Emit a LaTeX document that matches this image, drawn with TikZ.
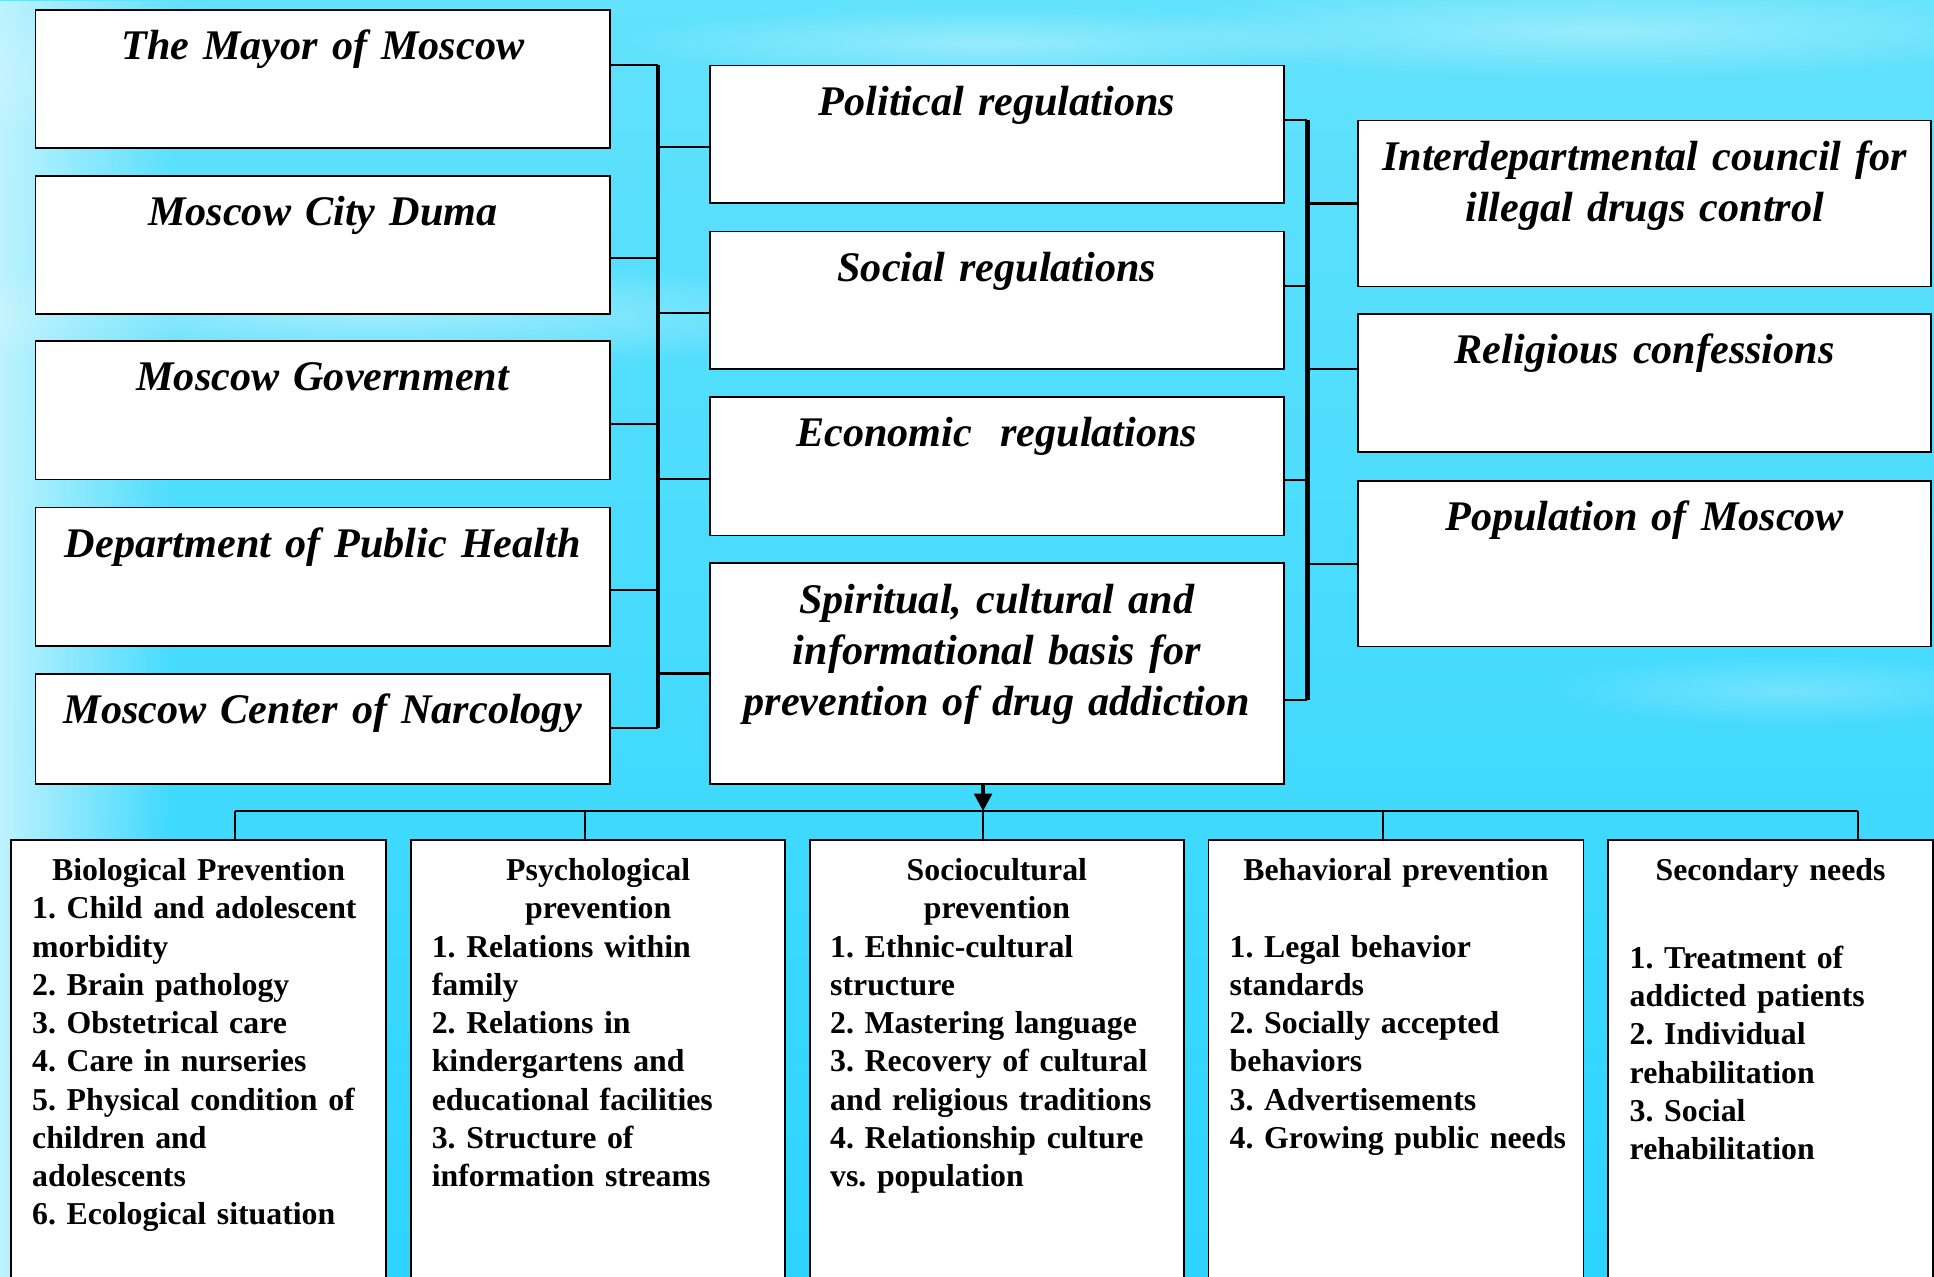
\documentclass[tikz,border=0pt]{standalone}
\usepackage{fontspec}
\setmainfont{Liberation Serif}
\usetikzlibrary{calc,arrows.meta,fadings}
\definecolor{skytop}{RGB}{98,226,252}
\definecolor{skybot}{RGB}{44,212,255}
\definecolor{skylight}{RGB}{190,243,255}
\newcommand\pxu{0.012334cm}
\protected\def\tightsp{\spaceskip=0.2em\relax}
\protected\def\tightspb{\spaceskip=0.21em\relax}
\tikzfading[name=softblob,inner color=transparent!0,outer color=transparent!100]
\frenchspacing
\begin{document}
\begin{tikzpicture}[x=0.012334cm,y=-0.012334cm,
  box/.style n args={2}{draw=black,line width=0.5pt,fill=white,rectangle,inner sep=0pt,anchor=north west,
     minimum width=#1*\pxu,minimum height=#2*\pxu},
  toptext/.style={font=\fontsize{12pt}{14.56pt}\selectfont\bfseries\itshape\frenchspacing\tightspb,align=center,text width=158pt,inner sep=0pt,anchor=base},
  btitle/.style={font=\fontsize{9.05pt}{10.88pt}\selectfont\bfseries\frenchspacing\tightsp,align=center,text width=100pt,inner sep=0pt,anchor=base},
  bbody/.style={font=\fontsize{9.05pt}{10.88pt}\selectfont\bfseries\frenchspacing\tightsp,align=left,text width=100pt,inner sep=0pt,anchor=base west},
  stub/.style={draw=black,line width=0.6pt},
  bus/.style={draw=black,line width=1.3pt},
  feed/.style={draw=black,line width=1.1pt,-{Triangle[length=5pt,width=5pt]}}
]
\useasboundingbox (0,0) rectangle (1568,1035);
\clip (0,0) rectangle (1568,1035);
% background sky
\shade[top color=skytop,bottom color=skybot] (0,0) rectangle (1568,1035);
\fill[skylight,path fading=east] (0,0) rectangle (140,1035);
\fill[white,opacity=0.45,path fading=softblob] (300,255) ellipse [x radius=420,y radius=45];
\fill[white,opacity=0.35,path fading=softblob] (1300,25) ellipse [x radius=380,y radius=40];
\fill[white,opacity=0.35,path fading=softblob] (800,35) ellipse [x radius=300,y radius=30];
\fill[white,opacity=0.3,path fading=softblob] (120,60) ellipse [x radius=200,y radius=60];
\fill[white,opacity=0.25,path fading=softblob] (1450,560) ellipse [x radius=200,y radius=30];

% left column
\node[box={466}{112}]   (L1) at (28,7.3) {};
\node[box={466}{112.3}] (L2) at (28,141.7) {};
\node[box={466}{112.3}] (L3) at (28,275.7) {};
\node[box={466}{112.3}] (L4) at (28,410.7) {};
\node[box={466}{89.4}]  (L5) at (28,545.6) {};
% middle column
\node[box={465}{111.7}] (M1) at (575,52.3) {};
\node[box={465}{111.5}] (M2) at (575,187) {};
\node[box={465}{112.5}] (M3) at (575,321) {};
\node[box={465}{179}]   (M4) at (575,456) {};
% right column
\node[box={464.5}{134.5}] (R1) at (1100.5,97) {};
\node[box={464.5}{112}]   (R2) at (1100.5,254) {};
\node[box={464.5}{134.5}] (R3) at (1100.5,389) {};
% bottom boxes
\node[box={303.5}{420}] (B1) at (8.5,680) {};
\node[box={303.5}{420}] (B2) at (332.5,680) {};
\node[box={303}{420}]   (B3) at (656,680) {};
\node[box={304}{420}]   (B4) at (979,680) {};
\node[box={263.5}{420}] (B5) at (1303,680) {};

% top texts
\node[toptext] (tL1) at ($(L1.north)+(0,41)$) {The Mayor of Moscow};
\node[toptext] (tL2) at ($(L2.north)+(0,41)$) {Moscow City Duma};
\node[toptext] (tL3) at ($(L3.north)+(0,41)$) {Moscow Government};
\node[toptext] (tL4) at ($(L4.north)+(0,41)$) {Department of Public Health};
\node[toptext] (tL5) at ($(L5.north)+(0,41)$) {Moscow Center of Narcology};
\node[toptext] (tM1) at ($(M1.north)+(0,41)$) {Political regulations};
\node[toptext] (tM2) at ($(M2.north)+(0,41)$) {Social regulations};
\node[toptext] (tM3) at ($(M3.north)+(0,41)$) {Economic\ \ regulations};
\node[toptext] (tM4) at ($(M4.north)+(0,41)$) {Spiritual, cultural and\\informational basis for\\prevention of drug addiction};
\node[toptext] (tR1) at ($(R1.north)+(0,41)$) {Interdepartmental council for\\illegal drugs control};
\node[toptext] (tR2) at ($(R2.north)+(0,41)$) {Religious confessions};
\node[toptext] (tR3) at ($(R3.north)+(0,41)$) {Population of Moscow};

% bottom texts
\node[btitle] (hB1) at ($(B1.north)+(0,34)$) {Biological Prevention};
\node[bbody]  (bB1) at ($(B1.north west)+(17,65)$) {1. Child and adolescent\\morbidity\\2. Brain pathology\\3. Obstetrical care\\4. Care in nurseries\\5. Physical condition of\\children and\\adolescents\\6. Ecological situation};
\node[btitle] (hB2) at ($(B2.north)+(0,34)$) {Psychological\\prevention};
\node[bbody]  (bB2) at ($(B2.north west)+(17,96)$) {1. Relations within\\family\\2. Relations in\\kindergartens and\\educational facilities\\3. Structure of\\information streams};
\node[btitle] (hB3) at ($(B3.north)+(0,34)$) {Sociocultural\\prevention};
\node[bbody]  (bB3) at ($(B3.north west)+(16.5,96)$) {1. Ethnic-cultural\\structure\\2. Mastering language\\3. Recovery of cultural\\and religious traditions\\4. Relationship culture\\vs. population};
\node[btitle] (hB4) at ($(B4.north)+(0,34)$) {Behavioral prevention};
\node[bbody]  (bB4) at ($(B4.north west)+(17.4,96)$) {1. Legal behavior\\standards\\2. Socially accepted\\behaviors\\3. Advertisements\\4. Growing public needs};
\node[btitle] (hB5) at ($(B5.north)+(0,34)$) {Secondary needs};
\node[bbody]  (bB5) at ($(B5.north west)+(17.7,105)$) {1. Treatment of\\addicted patients\\2. Individual\\rehabilitation\\3. Social\\rehabilitation};

% left bus
\coordinate (lbT) at (533.5,52.5);
\coordinate (lbB) at (533.5,590);
\draw[stub] (L1.east |- lbT) -- (lbT);
\draw[stub] (L2.east |- 0,209) -- (lbT |- 0,209);
\draw[stub] (L3.east |- 0,344) -- (lbT |- 0,344);
\draw[stub] (L4.east |- 0,478) -- (lbT |- 0,478);
\draw[stub] (L5.east |- lbB) -- (lbB);
\draw[stub] (lbT |- 0,119.5) -- (M1.west |- 0,119.5);
\draw[stub] (lbT |- 0,254) -- (M2.west |- 0,254);
\draw[stub] (lbT |- 0,388.5) -- (M3.west |- 0,388.5);
\draw[stub] (lbT |- 0,546) -- (M4.west |- 0,546);
\draw[bus] (lbT) -- (lbB);

% right bus
\coordinate (rbT) at (1060,97);
\coordinate (rbB) at (1060,567.5);
\draw[stub] (M1.east |- rbT) -- (rbT);
\draw[stub] (M2.east |- 0,231.5) -- (rbT |- 0,231.5);
\draw[stub] (M3.east |- 0,389) -- (rbT |- 0,389);
\draw[stub] (M4.east |- rbB) -- (rbB);
\draw[stub] (rbT |- R1.west) -- (R1.west);
\draw[stub] (rbT |- 0,299) -- (R2.west |- 0,299);
\draw[stub] (rbT |- R3.west) -- (R3.west);
\draw[bus] (rbT) -- (rbB);

% distribution to the bottom boxes
\coordinate (hb1) at (190.5,657.6);
\coordinate (hb2) at (474,657.6);
\coordinate (hb3) at (797,657.6);
\coordinate (hb4) at (1121,657.6);
\coordinate (hb5) at (1506,657.6);
\draw[stub] (hb1) -- (hb5);
\draw[stub] (hb1) -- (B1.north -| hb1);
\draw[stub] (hb2) -- (B2.north -| hb2);
\draw[stub] (hb3) -- (B3.north -| hb3);
\draw[stub] (hb4) -- (B4.north -| hb4);
\draw[stub] (hb5) -- (B5.north -| hb5);
\draw[feed] (M4.south -| hb3) -- (hb3);
\end{tikzpicture}
\end{document}
